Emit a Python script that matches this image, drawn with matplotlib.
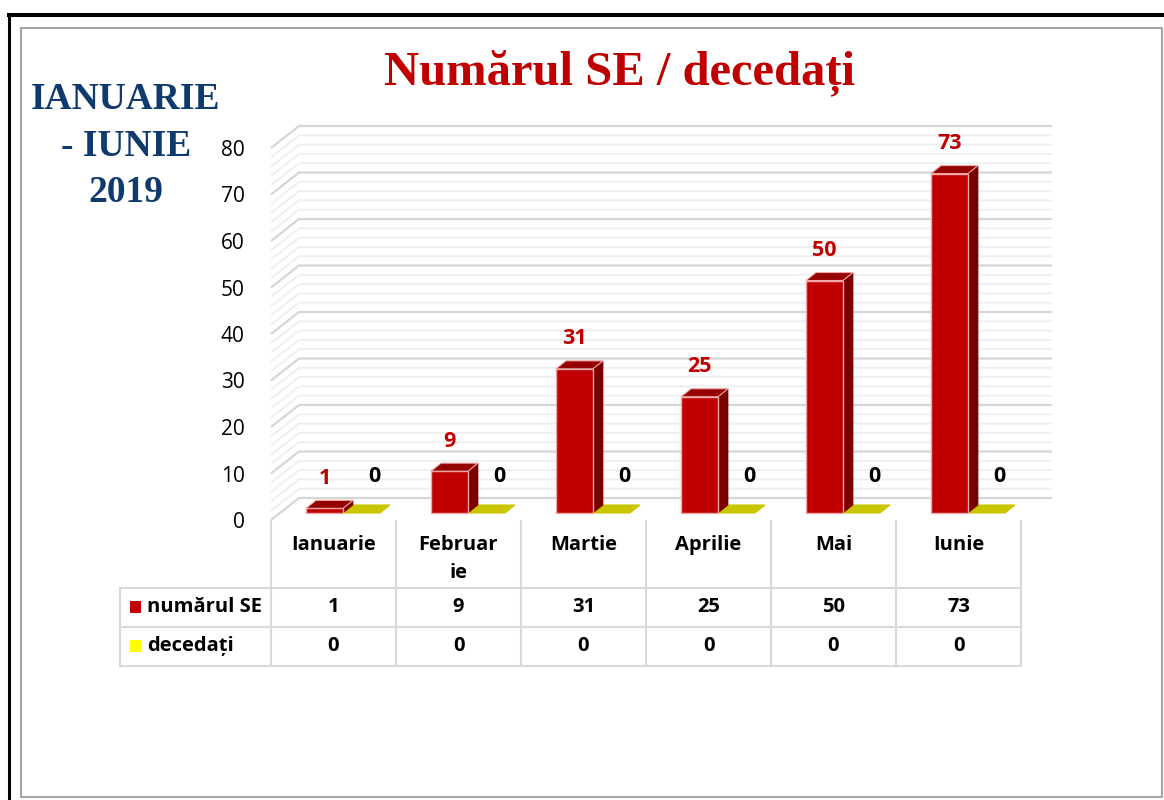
import matplotlib
matplotlib.use('Agg')
import matplotlib.pyplot as plt
from matplotlib.patches import Polygon
import matplotlib.transforms as mtransforms

# ---------------- data ----------------
categories = ['Ianuarie', 'Februarie', 'Martie', 'Aprilie', 'Mai', 'Iunie']
header_labels = ['Ianuarie', 'Februar\nie', 'Martie', 'Aprilie', 'Mai', 'Iunie']
numarul_se = [1, 9, 31, 25, 50, 73]
decedati = [0, 0, 0, 0, 0, 0]
series_names = ['numărul SE', 'decedați']
y_ticks = [0, 10, 20, 30, 40, 50, 60, 70, 80]
title_text = 'Numărul SE / decedați'
period_text = 'IANUARIE\n- IUNIE\n2019'

# ---------------- style ----------------
SANS = ['Open Sans', 'DejaVu Sans']
SERIF = ['Liberation Serif', 'DejaVu Serif']
RED = '#C00000'
RED_SIDE = '#7A0000'
RED_TOP = '#950000'
YEL_TOP = '#C9C600'
YEL_KEY = '#FFFF00'
NAVY = '#0E3A6E'
GRID_MAJ = '#D6D6D6'
GRID_MIN = '#EFEFEF'
TABLE = '#D9D9D9'
FS_TBL = 14.5

W, H = 1164, 800
fig = plt.figure(figsize=(W / 100, H / 100), dpi=100)
fig.patch.set_facecolor('white')

bg = fig.add_axes([0, 0, 1, 1])
bg.set_xlim(0, W)
bg.set_ylim(H, 0)
bg.axis('off')

# outer frames
bg.plot([7, W], [15, 15], color='black', lw=2.9, solid_capstyle='butt')
bg.plot([8.5, 8.5], [13, H], color='black', lw=2.2, solid_capstyle='butt')
bg.plot([21, 1162, 1162, 21, 21], [28, 28, 797, 797, 28], color='#A6A6A6', lw=1.5)

# chart axes
ax = fig.add_axes([271 / W, (H - 520) / H, 750 / W, 372 / H])
ax.set_xlim(-0.5, len(categories) - 0.5)
ax.set_ylim(0, 80)
for s in ax.spines.values():
    s.set_visible(False)
ax.patch.set_visible(False)
ax.set_xticks([])
ax.set_yticks(y_ticks)
ax.set_yticklabels([str(t) for t in y_ticks], family=SANS, fontsize=15)
ax.tick_params(axis='y', length=0, pad=19)

# pixel -> data scale
px_x = 750 / len(categories)   # px per category
px_y = 372 / 80                # px per unit

# back wall gridlines (3D wall with side)
wall_dx = 28 / px_x
wall_dy = 22 / px_y
x_left = -0.5
x_right = x_left + (1052 - 271) / px_x
for v in range(0, 81, 2):
    major = (v % 10 == 0)
    ax.plot([x_left, x_left + wall_dx, x_right], [v, v + wall_dy, v + wall_dy],
            color=GRID_MAJ if major else GRID_MIN, lw=1.6 if major else 1.4,
            clip_on=False, zorder=1, solid_capstyle='butt')

# bars (3D look), baseline slightly raised into depth
shifted = ax.transData + mtransforms.ScaledTranslation(0, 7 / 100, fig.dpi_scale_trans)
bar_w = 37 / px_x
red_off = -27.5 / px_x
yel_off = red_off + bar_w
dx = 10 / px_x
dy = 8 / px_y


def box(x0, v, front, side, top, z, edge=None):
    x1 = x0 + bar_w
    if v > 0:
        ax.add_patch(Polygon([(x1, 0), (x1 + dx, dy), (x1 + dx, v + dy), (x1, v)],
                             closed=True, fc=side, ec=side, lw=0.5, transform=shifted,
                             zorder=z, clip_on=False))
        ax.add_patch(Polygon([(x0, 0), (x1, 0), (x1, v), (x0, v)], closed=True,
                             fc=front, ec=edge if edge else front, lw=1.0,
                             transform=shifted, zorder=z, clip_on=False))
    ax.add_patch(Polygon([(x0, v), (x1, v), (x1 + dx, v + dy), (x0 + dx, v + dy)],
                         closed=True, fc=top, ec=edge if (edge and v > 0) else top,
                         lw=0.8, transform=shifted, zorder=z, clip_on=False))


for i, (a, b) in enumerate(zip(numarul_se, decedati)):
    box(i + yel_off, b, YEL_TOP, YEL_TOP, YEL_TOP, 3 + 2 * i)
    box(i + red_off, a, RED, RED_SIDE, RED_TOP, 4 + 2 * i, edge='#F0A8A8')
    ax.annotate(str(a), xy=(i + red_off + bar_w / 2, a), xycoords=shifted,
                xytext=(0, 30), textcoords='offset pixels', ha='center', va='center',
                color=RED, fontsize=15.5, fontweight='bold', family=SANS, zorder=20)
    ax.annotate(str(b), xy=(i + yel_off + bar_w / 2, b), xycoords=shifted,
                xytext=(13, 36), textcoords='offset pixels', ha='center', va='center',
                color='black', fontsize=15.5, fontweight='bold', family=SANS, zorder=20)

# ---------------- data table ----------------
fig.canvas.draw()
col_edges = [ax.transData.transform((i - 0.5, 0))[0] for i in range(len(categories) + 1)]
col_centers = [ax.transData.transform((i, 0))[0] for i in range(len(categories))]
tbl_left = 120
y_top, y_r1, y_r2, y_bot = 521, 588, 627, 666

for xe in col_edges:
    bg.plot([xe, xe], [y_top, y_bot], color=TABLE, lw=1.5)
bg.plot([tbl_left, tbl_left], [y_r1, y_bot], color=TABLE, lw=1.5)
for yy in (y_r1, y_r2, y_bot):
    bg.plot([tbl_left, col_edges[-1]], [yy, yy], color=TABLE, lw=1.5)

for xc, lab in zip(col_centers, header_labels):
    bg.text(xc, 535, lab, ha='center', va='top', fontsize=FS_TBL, fontweight='bold',
            family=SANS, linespacing=1.5)

row_y = [607, 646]
for xc, a, b in zip(col_centers, numarul_se, decedati):
    bg.text(xc, row_y[0], str(a), ha='center', va='center', fontsize=FS_TBL,
            fontweight='bold', family=SANS)
    bg.text(xc, row_y[1], str(b), ha='center', va='center', fontsize=FS_TBL,
            fontweight='bold', family=SANS)

for yy, name, col in zip(row_y, series_names, [RED, YEL_KEY]):
    bg.add_patch(plt.Rectangle((130, yy - 6), 11, 12, fc=col, ec='none'))
    bg.text(147, yy, name, ha='left', va='center', fontsize=FS_TBL, fontweight='bold',
            family=SANS)

# ---------------- titles ----------------
bg.text(620, 73, title_text, ha='center', va='center', color=RED, fontsize=35,
        fontweight='bold', family=SERIF)
bg.text(126, 146, period_text, ha='center', va='center', color=NAVY, fontsize=27,
        fontweight='bold', family=SERIF, linespacing=1.42)

fig.savefig('out.png', dpi=100, facecolor='white')
